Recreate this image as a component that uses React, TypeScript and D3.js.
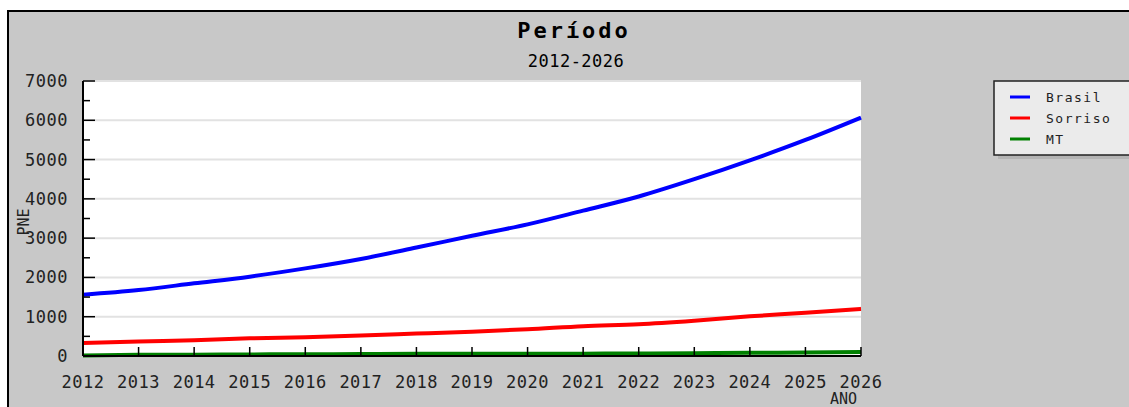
import React, { useEffect, useRef } from 'react';
import * as d3 from 'd3';

const years = [2012, 2013, 2014, 2015, 2016, 2017, 2018, 2019, 2020, 2021, 2022, 2023, 2024, 2025, 2026];
const brasil = [1560, 1680, 1850, 2020, 2230, 2470, 2760, 3060, 3350, 3700, 4060, 4500, 4980, 5500, 6070];
const sorriso = [330, 370, 400, 450, 480, 520, 570, 620, 680, 760, 810, 900, 1010, 1100, 1200];
const mt = [10, 30, 35, 40, 45, 50, 55, 55, 60, 60, 65, 70, 80, 90, 100];
const seriesNames = ['Brasil', 'Sorriso', 'MT'];
const seriesColors = ['#0000ff', '#ff0000', '#008000'];
const yTicks = [0, 1000, 2000, 3000, 4000, 5000, 6000, 7000];

const App = () => {
  const svgRef = useRef<SVGSVGElement>(null);

  useEffect(() => {
    const svg = d3.select(svgRef.current);
    svg.selectAll('*').remove();
    const width = 1129;
    const height = 407;
    const left = 83, right = 861, top = 81, bottom = 356;
    const font = '"DejaVu Sans Mono", monospace';

    // page background + frame
    svg.append('rect').attr('width', width).attr('height', height).attr('fill', '#fff');
    svg.append('rect').attr('x', 8).attr('y', 11).attr('width', width + 10).attr('height', height + 10)
      .attr('fill', '#c8c8c8').attr('stroke', '#000').attr('stroke-width', 2);

    const x = d3.scaleLinear().domain([2012, 2026]).range([left, right]);
    const y = d3.scaleLinear().domain([0, 7000]).range([bottom, top]);

    svg.append('rect').attr('x', left).attr('y', top).attr('width', right - left).attr('height', bottom - top)
      .attr('fill', '#fff');

    // gridlines
    svg.append('g').selectAll('line').data(yTicks.slice(1)).join('line')
      .attr('x1', left).attr('x2', right)
      .attr('y1', (d) => y(d)).attr('y2', (d) => y(d))
      .attr('stroke', '#e2e2e2').attr('stroke-width', 2);

    // titles
    svg.append('text').attr('x', 574).attr('y', 38).attr('text-anchor', 'middle')
      .style('font-family', font).style('font-size', '22px').style('font-weight', 'bold')
      .style('letter-spacing', '3px').text('Período');
    svg.append('text').attr('x', 576).attr('y', 67).attr('text-anchor', 'middle')
      .style('font-family', font).style('font-size', '17px').style('letter-spacing', '0.5px')
      .text('2012-2026');

    // series
    const allSeries = [brasil, sorriso, mt];
    const line = d3.line<number>().x((_, i) => x(years[i])).y((d) => y(d)).curve(d3.curveMonotoneX);
    allSeries.forEach((s, k) => {
      svg.append('path').datum(s).attr('d', line)
        .attr('fill', 'none').attr('stroke', seriesColors[k]).attr('stroke-width', 4);
    });

    // axes
    svg.append('line').attr('x1', left).attr('x2', left).attr('y1', top).attr('y2', bottom)
      .attr('stroke', '#000').attr('stroke-width', 2);
    svg.append('line').attr('x1', left).attr('x2', right).attr('y1', bottom).attr('y2', bottom)
      .attr('stroke', '#000').attr('stroke-width', 2);

    const minor = d3.range(500, 7000, 1000);
    svg.append('g').selectAll('line').data(minor).join('line')
      .attr('x1', left).attr('x2', left + 7)
      .attr('y1', (d) => y(d)).attr('y2', (d) => y(d))
      .attr('stroke', '#000').attr('stroke-width', 1.5);
    svg.append('g').selectAll('line').data(yTicks).join('line')
      .attr('x1', left).attr('x2', left + 12)
      .attr('y1', (d) => y(d)).attr('y2', (d) => y(d))
      .attr('stroke', '#000').attr('stroke-width', 1.5);
    svg.append('g').selectAll('text').data(yTicks).join('text')
      .attr('x', 68).attr('y', (d) => y(d) + 6).attr('text-anchor', 'end')
      .style('font-family', font).style('font-size', '17px').style('letter-spacing', '0.5px')
      .attr('fill', '#222')
      .text((d) => String(d));

    svg.append('g').selectAll('line').data(years).join('line')
      .attr('x1', (d) => x(d)).attr('x2', (d) => x(d))
      .attr('y1', bottom).attr('y2', bottom - 9)
      .attr('stroke', '#000').attr('stroke-width', 1.5);
    svg.append('g').selectAll('text').data(years).join('text')
      .attr('x', (d) => x(d)).attr('y', 388).attr('text-anchor', 'middle')
      .style('font-family', font).style('font-size', '17px').style('letter-spacing', '0.5px')
      .attr('fill', '#222')
      .text((d) => String(d));

    svg.append('text').attr('x', 857).attr('y', 404).attr('text-anchor', 'end')
      .style('font-family', font).style('font-size', '15px').attr('fill', '#222').text('ANO');
    svg.append('text').attr('transform', 'translate(29,222) rotate(-90)').attr('text-anchor', 'middle')
      .style('font-family', font).style('font-size', '15px').attr('fill', '#222').text('PNE');

    // legend
    const lx = 994, ly = 81;
    svg.append('rect').attr('x', lx + 4).attr('y', ly + 4).attr('width', 200).attr('height', 74)
      .attr('fill', '#b4b4b4');
    svg.append('rect').attr('x', lx).attr('y', ly).attr('width', 200).attr('height', 74)
      .attr('fill', '#ebebeb').attr('stroke', '#222').attr('stroke-width', 1.5);
    seriesNames.forEach((n, i) => {
      const yy = ly + 16 + i * 21;
      svg.append('line').attr('x1', lx + 16).attr('x2', lx + 36).attr('y1', yy).attr('y2', yy)
        .attr('stroke', seriesColors[i]).attr('stroke-width', 3);
      svg.append('text').attr('x', lx + 52).attr('y', yy + 5)
        .style('font-family', font).style('font-size', '13px').style('letter-spacing', '1.5px')
        .attr('fill', '#222').text(n);
    });
  }, []);

  return <svg ref={svgRef} width={1129} height={407} style={{ position: 'absolute', left: 0, top: 0 }} />;
};

export default App;
